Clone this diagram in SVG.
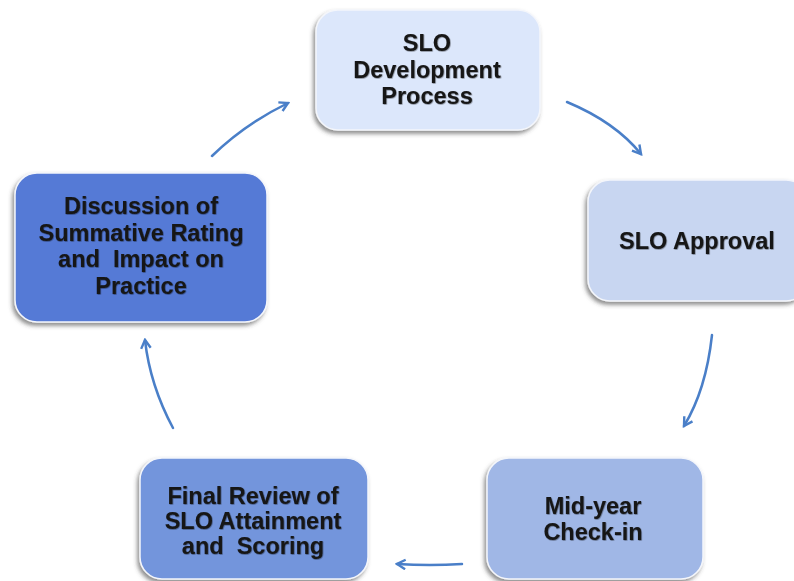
<svg xmlns="http://www.w3.org/2000/svg" width="794" height="581" viewBox="0 0 794 581">
<defs>
<filter id="sh" x="-10%" y="-10%" width="120%" height="125%">
<feDropShadow dx="-2" dy="3" stdDeviation="2" flood-color="#404040" flood-opacity="0.6"/>
</filter>
<filter id="ts" x="-5%" y="-10%" width="110%" height="130%">
<feDropShadow dx="0.6" dy="0.6" stdDeviation="0.4" flood-color="#000" flood-opacity="0.5"/>
</filter>
<marker id="ah" viewBox="0 0 10 10" refX="8" refY="5" markerWidth="12" markerHeight="12" markerUnits="userSpaceOnUse" orient="auto">
<path d="M1,1 L8,5 L1,9" fill="none" stroke="#4a7fc8" stroke-width="2" stroke-linejoin="miter"/>
</marker>
<style>
.box{stroke:#f4f6fb;stroke-width:1.5;filter:url(#sh)}
.t{font-family:"Liberation Sans",Arial,sans-serif;font-weight:bold;font-size:23.5px;fill:#161616;text-anchor:middle;filter:url(#ts);white-space:pre}
.c{fill:none;stroke:#4a7fc8;stroke-width:2.5;stroke-linecap:round;marker-end:url(#ah)}
</style>
</defs>
<g id="connectors">
<path class="c" d="M567,102 Q615,122 641,154"/>
<path class="c" d="M712,335 Q706,390 684,426"/>
<path class="c" d="M462,564 Q430,566 397,564"/>
<path class="c" d="M173,428 Q150,385 145,340"/>
<path class="c" d="M212,156 Q245,124 288,103"/>
</g>
<g id="n1">
<rect class="box" x="316" y="10" width="224" height="120" rx="22" fill="#dce7fb"/>
<text class="t"><tspan x="427" y="51">SLO</tspan><tspan x="427" y="78">Development</tspan><tspan x="427" y="104">Process</tspan></text>
</g>
<g id="n2">
<rect class="box" x="588" y="180" width="220" height="121" rx="22" fill="#c8d6f1"/>
<text class="t" x="697" y="249">SLO Approval</text>
</g>
<g id="n3">
<rect class="box" x="487" y="458" width="216" height="121" rx="22" fill="#a0b7e6"/>
<text class="t"><tspan x="593" y="514">Mid-year</tspan><tspan x="593" y="540">Check-in</tspan></text>
</g>
<g id="n4">
<rect class="box" x="140" y="458" width="228" height="121" rx="22" fill="#7395dc"/>
<text class="t"><tspan x="253" y="504">Final Review of</tspan><tspan x="253" y="529">SLO Attainment</tspan><tspan x="253" y="554">and  Scoring</tspan></text>
</g>
<g id="n5">
<rect class="box" x="15" y="173" width="252" height="149" rx="22" fill="#557ad6"/>
<text class="t"><tspan x="141" y="214">Discussion of</tspan><tspan x="141" y="241">Summative Rating</tspan><tspan x="141" y="267">and  Impact on</tspan><tspan x="141" y="294">Practice</tspan></text>
</g>
</svg>
